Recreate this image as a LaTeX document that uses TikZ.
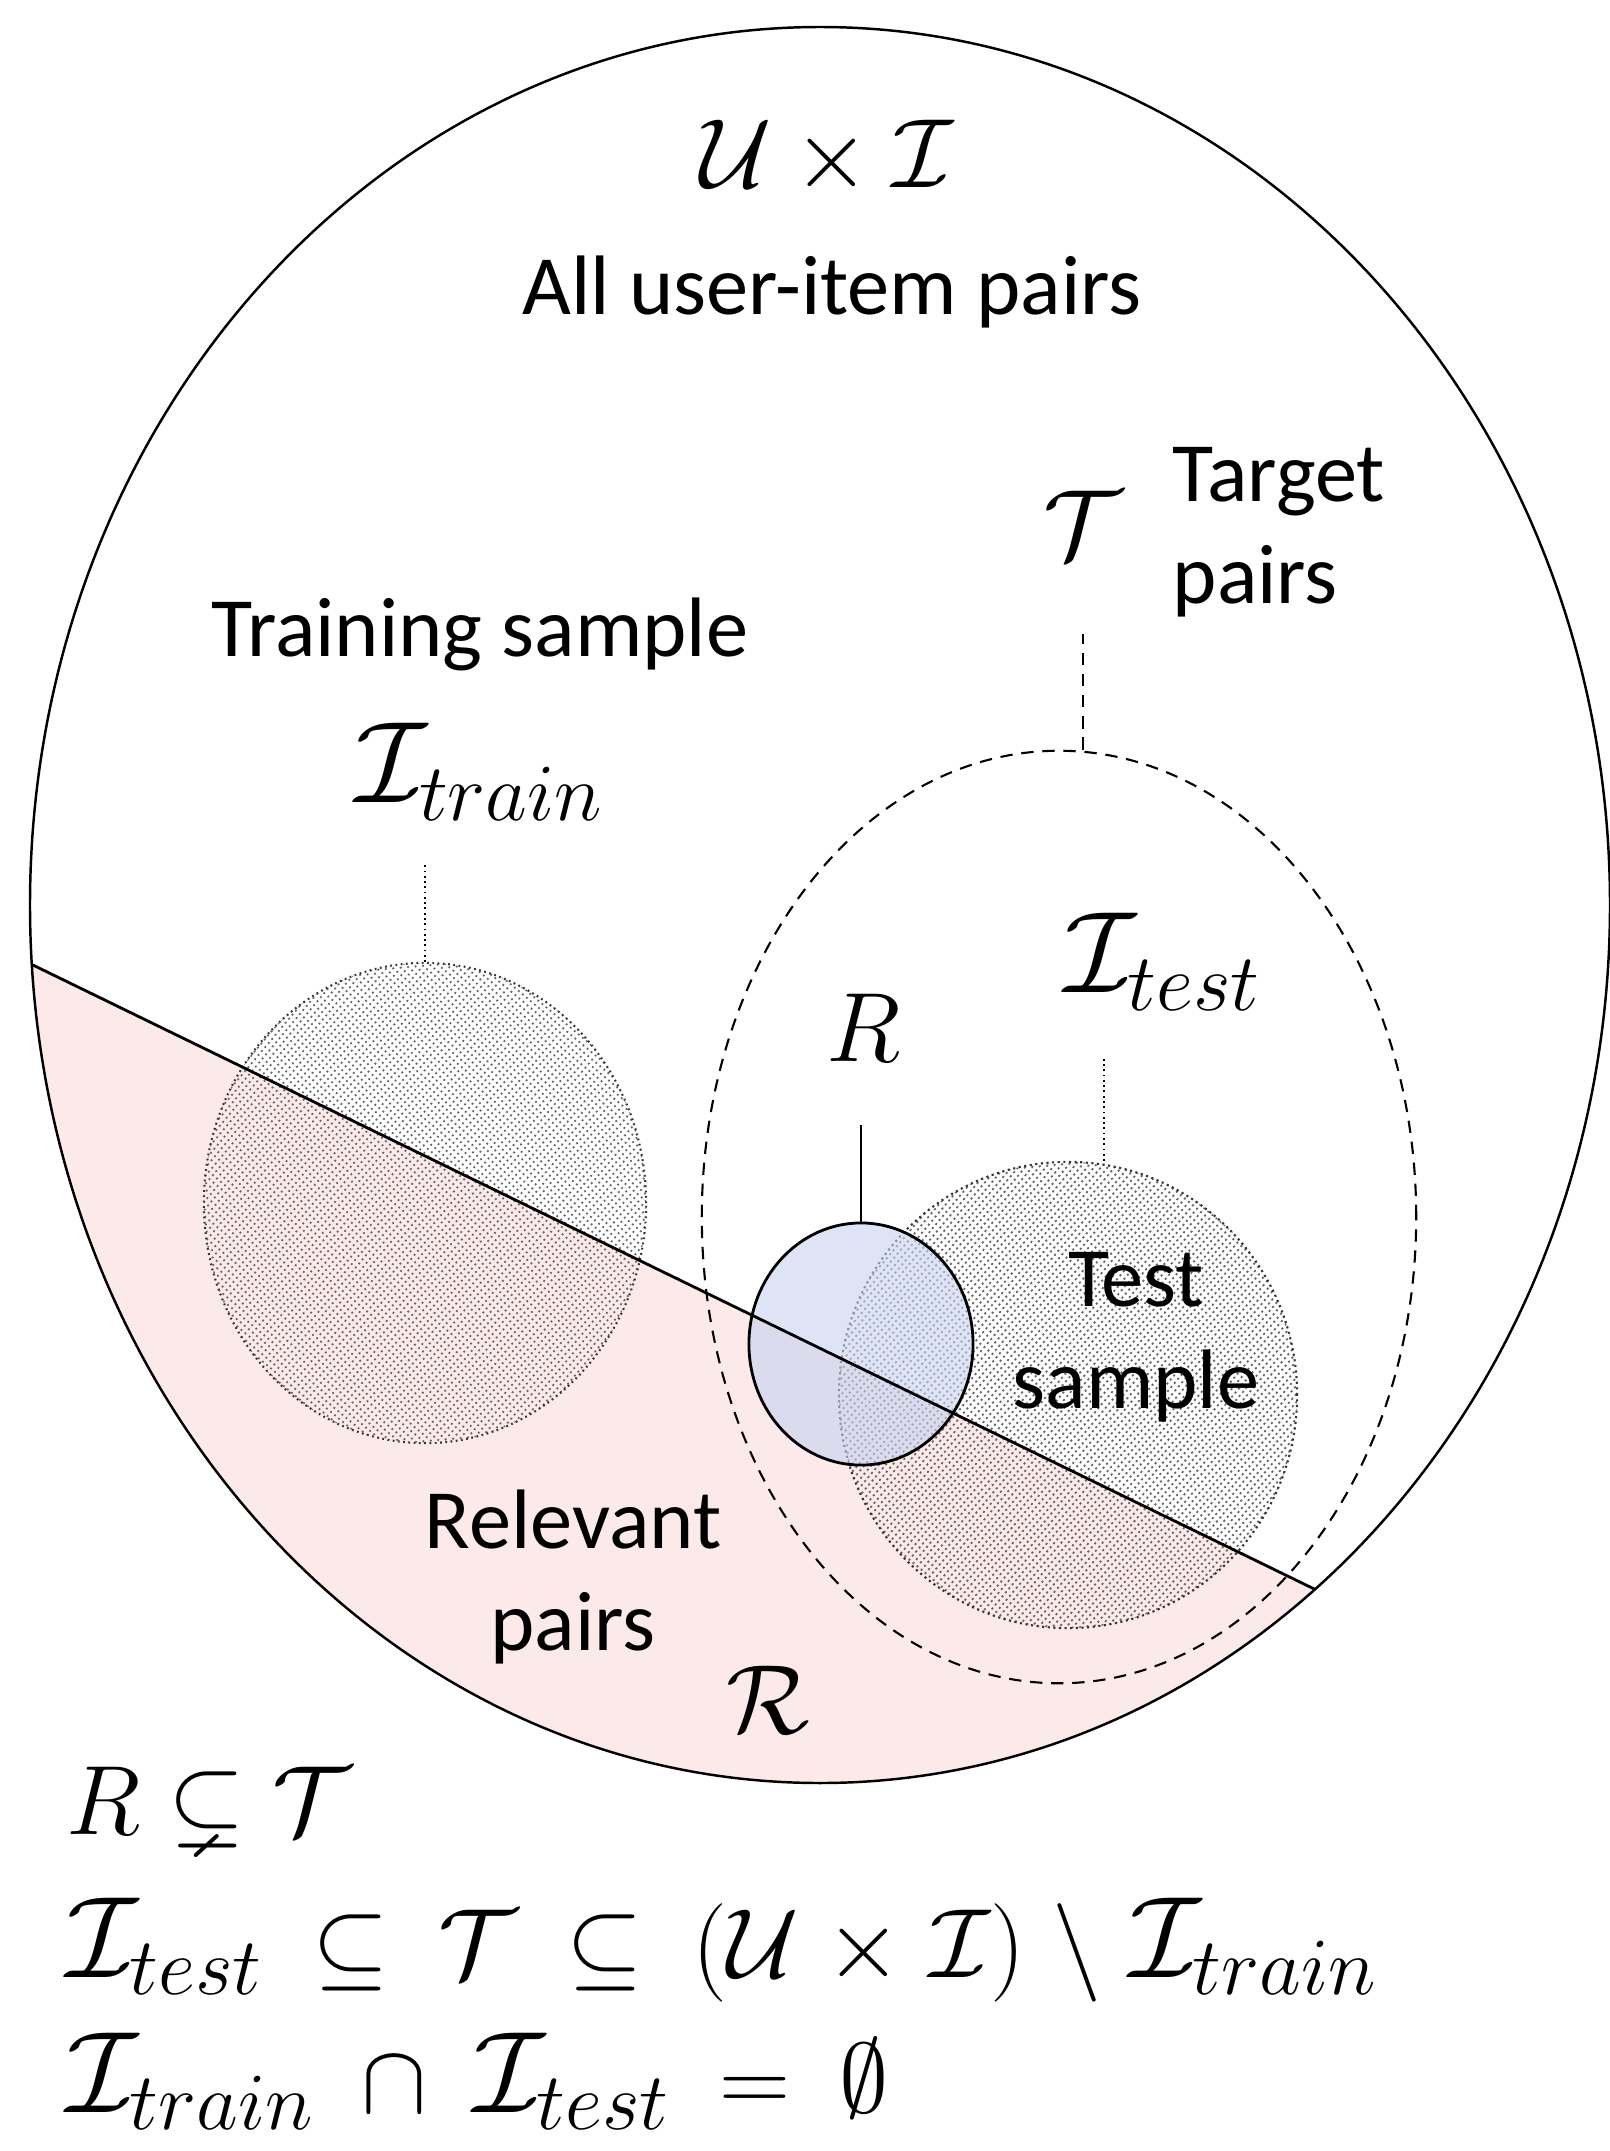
\RequirePackage{fix-cm}
\documentclass[tikz,border=0pt]{standalone}
\usepackage{amsmath,amssymb}
\usepackage{fontspec}
\setmainfont{Carlito}
\usepackage{tikz}
\usetikzlibrary{positioning,shapes.geometric,patterns.meta}
\definecolor{relpink}{RGB}{252,234,234}
\definecolor{recblue}{RGB}{200,210,240}
\newcommand{\Iset}[1]{\text{\fontsize{33}{37}\selectfont$\mathcal{I}_{#1}$}}

\begin{document}
\begin{tikzpicture}[
                x=0.01cm, y=-0.01cm,
                txt/.style={font=\fontsize{24}{29}\selectfont, align=center, inner sep=0pt},
                mth/.style={font=\fontsize{28}{32}\selectfont, inner sep=0pt},
                set/.style={ellipse, inner sep=0pt},
                sample/.style={set, draw=black!80, densely dotted, line width=0.6pt, pattern={Lines[angle=50,distance=1.5pt,line width=0.5pt]}, pattern color=black!60},
                target/.style={set, draw, dash pattern=on 3.5pt off 2.5pt, line width=0.6pt},
                rec/.style={set, draw, line width=0.8pt, fill=recblue, fill opacity=0.6},
                lead/.style={line width=0.5pt}
            ]
            \useasboundingbox (0,0) rectangle (1610,2151);
            % relevant pairs
            \begin{scope}
                \clip (820,905) ellipse [x radius=790, y radius=878];
                \fill[relpink] (0,949) -- (1610,1733) -- (1610,2151) -- (0,2151) -- cycle;
            \end{scope}
            \node[sample, minimum width=4.42cm, minimum height=4.80cm] (train) at (425,1203) {};
            \node[sample, minimum width=4.58cm, minimum height=4.66cm] (test) at (1068,1395) {};
            \node[target, minimum width=7.14cm, minimum height=9.32cm] (tgt) at (1059,1217) {};
            \node[rec, minimum width=2.24cm, minimum height=2.42cm] (rset) at (861,1344) {};
            \begin{scope}
                \clip (820,905) ellipse [x radius=790, y radius=878];
                \draw[line width=0.8pt] (0,949) -- (1610,1733);
            \end{scope}
            \draw[line width=0.7pt] (820,905) ellipse [x radius=790, y radius=878];
            % labels
            \node[mth] (uxi) at (827,158) {$\mathcal{U}\times\mathcal{I}$};
            \node[txt] (all) at (832,292) {All user-item pairs};
            \node[mth] (tcal) at (1083,525) {$\mathcal{T}$};
            \node[txt, anchor=west, align=left] (tlab) at (1172,532) {Target\\pairs};
            \node[txt] (trlab) at (480,634) {Training sample};
            \node[mth] (trcal) at (480,772) {$\Iset{train}$};
            \node[mth] (tecal) at (1163,962) {$\Iset{test}$};
            \node[mth] (rlab) at (864,1028) {$R$};
            \node[txt] (tslab) at (1136,1337) {Test\\sample};
            \node[txt] (rellab) at (573,1577) {Relevant\\pairs};
            \node[mth] (rcal) at (768,1700) {$\mathcal{R}$};
            % leaders
            \coordinate (trtip) at (425,864);
            \coordinate (tgtip) at (1083,634);
            \coordinate (tetip) at (1104,1056);
            \coordinate (rtip) at (861,1125);
            \draw[lead, densely dotted] (train.north) -- (trtip);
            \draw[lead, dash pattern=on 3.5pt off 2.5pt] (tgtip |- tgt.north) -- (tgtip);
            \draw[lead, densely dotted] (tetip |- test.north) -- (tetip);
            \draw[lead] (rset.north) -- (rtip);
            % relations
            \node[mth, anchor=base west] (f1) at (66,1834) {$R \subsetneq \mathcal{T}$};
            \node[mth, anchor=base west] (f2) at (66,1977) {$\thickmuskip=9mu \medmuskip=5mu \Iset{test} \subseteq \mathcal{T} \subseteq (\mathcal{U}\times\mathcal{I}) \setminus \Iset{train}$};
            \node[mth, anchor=base west] (f3) at (66,2112) {$\thickmuskip=9mu \medmuskip=8.5mu \Iset{train} \cap \Iset{test} = \emptyset$};
        \end{tikzpicture}
\end{document}
